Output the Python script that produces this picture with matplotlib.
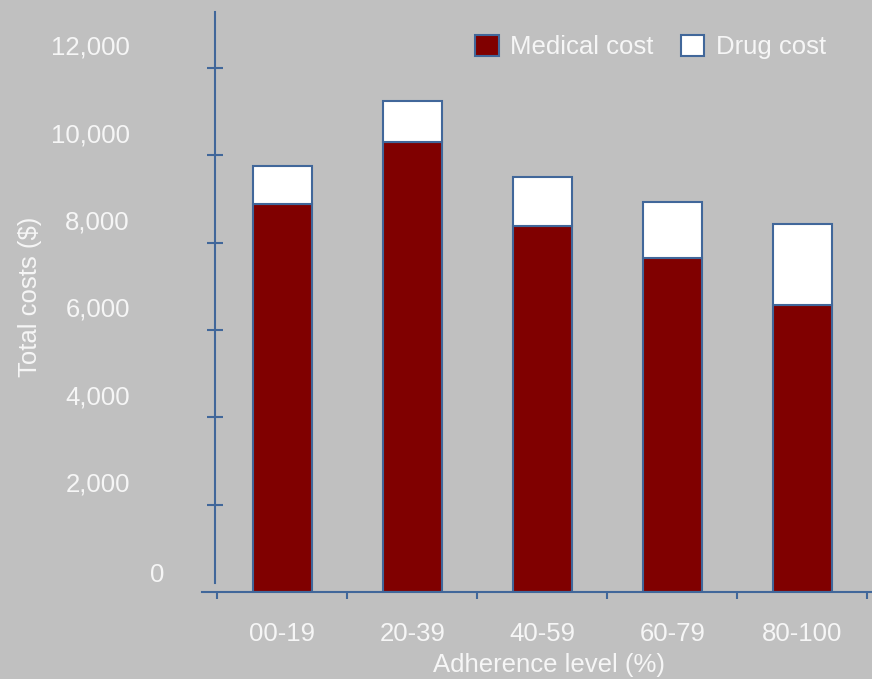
import numpy as np
import matplotlib.pyplot as plt

# Datos
categorias = ['00-19', '20-39', '40-59', '60-79', '80-100']
coste_medico = [8880, 10300, 8380, 7660, 6570]
coste_farmaco = [880, 950, 1130, 1280, 1850]
marcas_y = [2000, 4000, 6000, 8000, 10000, 12000]

plt.rcParams['font.family'] = ['Liberation Sans', 'DejaVu Sans']
plt.rcParams['font.size'] = 18.5

fondo = '#c0c0c0'
rojo = '#800000'
azul = '#41679a'
texto = '#f6f6f6'

W, H = 872, 679
fig = plt.figure(figsize=(W / 100, H / 100), dpi=100, facecolor=fondo)
ax = fig.add_axes([202 / W, (H - 592) / H, (872 - 202) / W, (592 - 12) / H])
ax.set_facecolor(fondo)

x = np.arange(len(categorias))
ancho = 0.458
ax.bar(x, coste_medico, width=ancho, color=rojo, edgecolor=azul, linewidth=1.5, label='Medical cost')
ax.bar(x, coste_farmaco, bottom=coste_medico, width=ancho, color='white', edgecolor=azul,
       linewidth=1.5, label='Drug cost')

ax.set_xlim(-0.619, 4.535)
ax.set_ylim(0, 13282)

# Ejes
for lado in ('top', 'right'):
    ax.spines[lado].set_visible(False)
ax.spines['left'].set_position(('data', -0.519))
ax.spines['left'].set_bounds(206, 13282)
for lado in ('left', 'bottom'):
    ax.spines[lado].set_color(azul)
    ax.spines[lado].set_linewidth(1.5)

# Eje y: marcas sin etiquetas, etiquetas desplazadas hacia arriba
ax.set_yticks(marcas_y)
ax.tick_params(axis='y', labelleft=False, direction='inout', length=11, width=1.5, color=azul)
for v in marcas_y:
    ax.annotate(f'{v:,}', xy=(-0.519, v), xycoords='data', xytext=(-85, 20),
                textcoords='offset pixels', ha='right', va='center', color=texto)
ax.annotate('0', xy=(-0.519, 0), xycoords='data', xytext=(-58, 17),
            textcoords='offset pixels', ha='center', va='center', color=texto)

# Eje x
ax.set_xticks(x, categorias)
ax.set_xticks(np.arange(len(categorias) + 1) - 0.5, minor=True)
ax.tick_params(axis='x', which='major', length=0, pad=21.5, labelcolor=texto)
ax.tick_params(axis='x', which='minor', direction='out', length=5, width=1.5, color=azul)

fig.text(549 / W, 1 - 665 / H, 'Adherence level (%)', ha='center', va='center', color=texto)
fig.text(30 / W, 1 - 297 / H, 'Total costs ($)', ha='center', va='center', rotation=90, color=texto)

ax.legend(ncol=2, frameon=False, loc='center left', bbox_to_anchor=(475 / W, 1 - 47 / H),
          bbox_transform=fig.transFigure, borderpad=0, borderaxespad=0,
          handlelength=0.92, handleheight=0.92, handletextpad=0.45, columnspacing=1.05,
          labelcolor=texto)

fig.savefig('out.png', dpi=100, facecolor=fondo)
